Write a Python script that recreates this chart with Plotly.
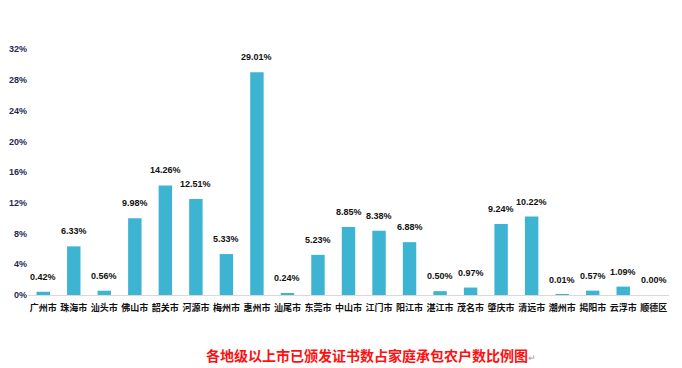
import plotly.graph_objects as go

cities = ["广州市", "珠海市", "汕头市", "佛山市", "韶关市", "河源市", "梅州市", "惠州市",
          "汕尾市", "东莞市", "中山市", "江门市", "阳江市", "湛江市", "茂名市", "肇庆市",
          "清远市", "潮州市", "揭阳市", "云浮市", "顺德区"]
values = [0.42, 6.33, 0.56, 9.98, 14.26, 12.51, 5.33, 29.01, 0.24, 5.23, 8.85, 8.38,
          6.88, 0.50, 0.97, 9.24, 10.22, 0.01, 0.57, 1.09, 0.00]
y_ticks = [0, 4, 8, 12, 16, 20, 24, 28, 32]
title_text = "各地级以上市已颁发证书数占家庭承包农户数比例图"

fig = go.Figure(go.Bar(
    x=cities, y=values,
    marker=dict(color="#3CB4D2", line=dict(width=0)),
    hoverinfo="skip",
))

label_annotations = [
    dict(x=c, y=v, xref="x", yref="y", text=f"{v:.2f}%", showarrow=False,
         xanchor="center", yanchor="middle", yshift=15,
         font=dict(family="Liberation Sans, Arial, sans-serif", size=9, color="#111111", weight="bold"))
    for c, v in zip(cities, values)
]

fig.update_layout(
    width=682, height=368,
    margin=dict(l=28, r=13, t=40, b=73),
    paper_bgcolor="white", plot_bgcolor="white",
    bargap=0.56,
    showlegend=False,
    font=dict(family="Noto Sans CJK SC, sans-serif"),
    annotations=label_annotations + [
        dict(text=title_text + "<span style='color:#999999;font-size:9px;font-weight:normal'>↵</span>",
             x=0.535, xref="paper", y=-0.235, yref="paper",
             xanchor="center", yanchor="middle", showarrow=False,
             font=dict(family="Noto Sans CJK SC, sans-serif", size=14, color="#FF1010", weight="bold")),
    ],
)
fig.update_xaxes(
    showline=True, linecolor="#D9D9D9", linewidth=1,
    ticks="", showgrid=False, tickangle=0, automargin=False,
    ticklabelstandoff=4,
    tickfont=dict(family="Noto Sans CJK SC, sans-serif", size=9, color="#111111", weight="bold"),
)
fig.update_yaxes(
    range=[0, 33.2], tickvals=y_ticks, ticktext=[f"{t}%" for t in y_ticks],
    showgrid=False, zeroline=False, showline=False, ticks="", automargin=False,
    tickfont=dict(family="Liberation Sans, Arial, sans-serif", size=9, color="#1F2A55", weight="bold"),
)

fig.write_html("out.html")
